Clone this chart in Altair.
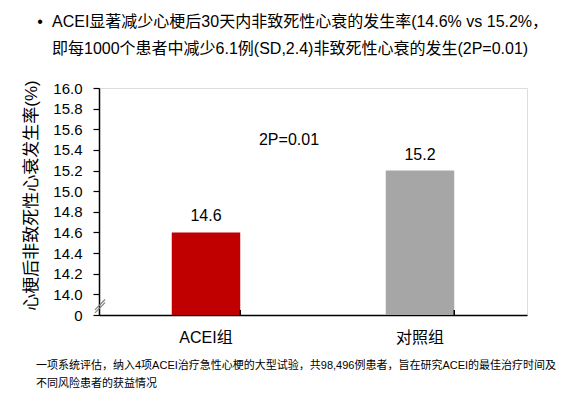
import altair as alt
import pandas as pd

# ---- data ----
groups = ["ACEI组", "对照组"]
rates = [14.6, 15.2]
bar_colors = ["#C00000", "#A6A6A6"]
y_ticks = [13.8, 14.0, 14.2, 14.4, 14.6, 14.8, 15.0, 15.2, 15.4, 15.6, 15.8, 16.0]
y_title = "心梗后非致死性心衰发生率(%)"
headline = [
    "ACEI显著减少心梗后30天内非致死性心衰的发生率(14.6% vs  15.2%，",
    "即每1000个患者中减少6.1例(SD,2.4)非致死性心衰的发生(2P=0.01)",
]
p_text = "2P=0.01"
footnote = [
    "一项系统评估，纳入4项ACEI治疗急性心梗的大型试验，共98,496例患者，旨在研究ACEI的最佳治疗时间及",
    "不同风险患者的获益情况",
]

FONT = "Liberation Sans, Arial, Noto Sans CJK SC"
df = pd.DataFrame({"group": groups, "rate": rates, "color": bar_colors})

yscale = alt.Scale(domain=[13.8, 16.0], nice=False, zero=False)
xscale = alt.Scale(domain=groups, paddingInner=0.68, paddingOuter=0.34)

base = alt.Chart(df)

bars = base.mark_bar().encode(
    x=alt.X("group:N", scale=xscale, sort=groups,
            axis=alt.Axis(title=None, labelAngle=0, ticks=False, labelPadding=14,
                          labelFontSize=16, labelColor="black", labelFont=FONT,
                          domainColor="black", domainWidth=1.5)),
    y=alt.Y("rate:Q", scale=yscale,
            axis=alt.Axis(values=y_ticks, tickCount=len(y_ticks) + 5, title=y_title,
                          labelExpr="datum.value < 13.9 ? '0' : format(datum.value, '.1f')",
                          labelOverlap=False, labelBound=False, labelFlush=False,
                          labelFontSize=15, labelColor="black", labelFont=FONT,
                          labelPadding=11, tickSize=6, tickColor="black", tickWidth=1.2,
                          domainColor="black", domainWidth=1.5, grid=False,
                          titleFont=FONT, titleFontSize=17, titleFontWeight="normal",
                          titleColor="black", titleX=-68, titleY=107,
                          titleAlign="center", titleBaseline="middle", titleAngle=-90)),
    y2=alt.datum(13.8),
    color=alt.Color("color:N", scale=None),
)

labels = base.mark_text(fontSize=16, font=FONT, color="black", baseline="middle", dy=-16).encode(
    x=alt.X("group:N", scale=xscale, sort=groups),
    y=alt.Y("rate:Q", scale=yscale),
    text=alt.Text("rate:Q", format=".1f"),
)

# category boundary ticks on the x axis (pointing up)
xticks = base.mark_rule(color="black", strokeWidth=1.5).encode(
    x=alt.X("group:N", scale=xscale, sort=groups, bandPosition=1),
    y=alt.value(227),
    y2=alt.value(222),
)

# axis break marks
brk = pd.DataFrame({"y0": [13.82, 13.85], "y1": [13.92, 13.95]})
breaks = alt.Chart(brk).mark_rule(color="#7F7F7F", strokeWidth=1.2).encode(
    x=alt.value(-4), x2=alt.value(6),
    y=alt.Y("y0:Q", scale=yscale), y2="y1:Q",
)

ptxt = alt.Chart(pd.DataFrame({"t": [p_text]})).mark_text(
    fontSize=16, font=FONT, color="black", baseline="middle", align="center"
).encode(x=alt.value(190), y=alt.value(52), text="t:N")

bullet = alt.Chart(pd.DataFrame({"t": ["•"]})).mark_text(
    fontSize=16, font=FONT, color="black", baseline="middle", align="center"
).encode(x=alt.value(-59), y=alt.value(-66), text="t:N")

layers = [bars, labels, xticks, breaks, ptxt, bullet]

for line, ypos in zip(headline, [-66, -39]):
    layers.append(alt.Chart(pd.DataFrame({"t": [line]})).mark_text(
        fontSize=16, font=FONT, color="black", baseline="middle", align="left"
    ).encode(x=alt.value(-47), y=alt.value(ypos), text="t:N"))

for line, ypos in zip(footnote, [278, 296]):
    layers.append(alt.Chart(pd.DataFrame({"t": [line]})).mark_text(
        fontSize=11, font=FONT, color="black", baseline="middle", align="left"
    ).encode(x=alt.value(-63), y=alt.value(ypos), text="t:N"))

chart = alt.layer(*layers).properties(
    width=428, height=227,
    autosize=alt.AutoSizeParams(type="none"),
    padding={"left": 91, "top": 80, "right": 52, "bottom": 78},
).configure_view(stroke=None).configure(background="white")

chart.save("out.html", embed_options={"renderer": "svg", "actions": False})
